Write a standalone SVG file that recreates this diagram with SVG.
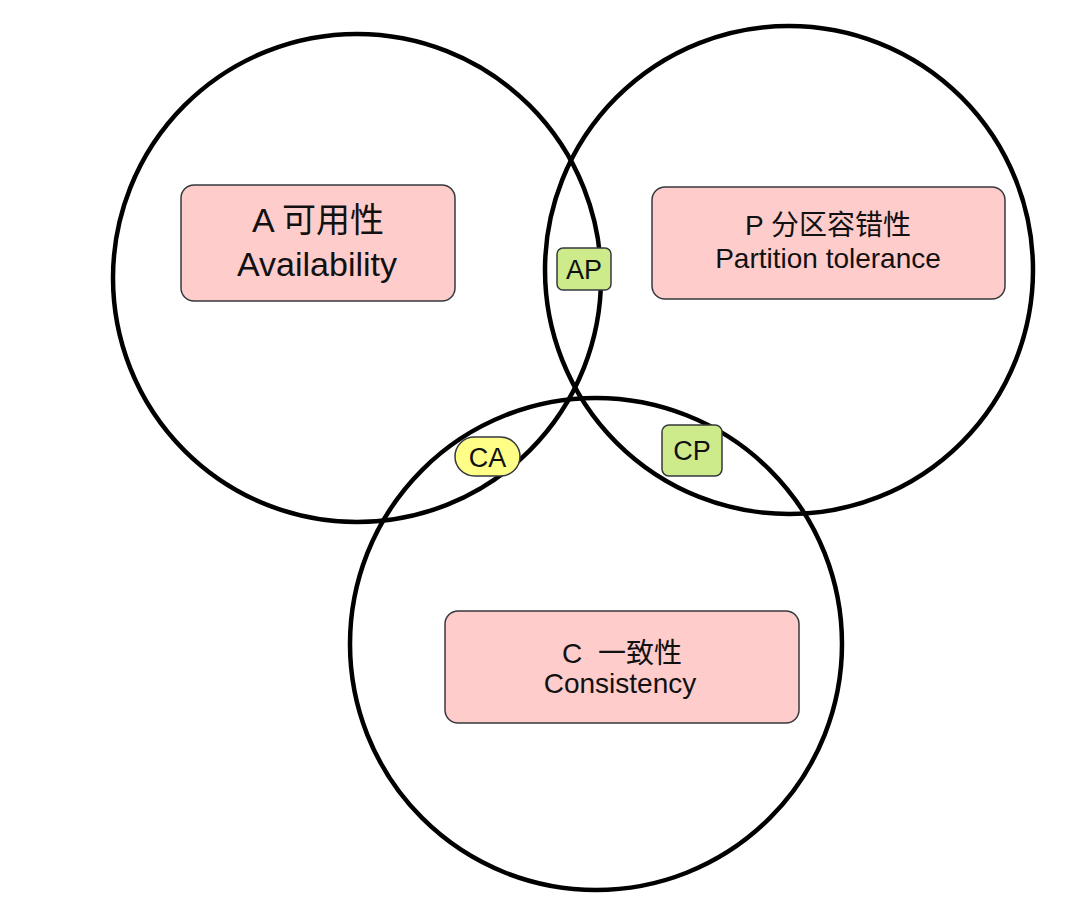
<svg xmlns="http://www.w3.org/2000/svg" width="1080" height="921" viewBox="0 0 1080 921">
  <style>
    .ring { fill: none; stroke: #000; stroke-width: 4.5; }
    .main { fill: #ffcccc; stroke: #36393d; stroke-width: 1.5; }
    .green { fill: #cdeb8b; stroke: #36393d; stroke-width: 1.5; }
    .yellow { fill: #ffff88; stroke: #36393d; stroke-width: 1.5; }
    text { font-family: "Liberation Sans", "Noto Sans CJK SC", sans-serif; fill: #111; text-anchor: middle; }
  </style>
  <rect width="1080" height="921" fill="#fff"/>
  <g id="circles">
    <g id="circle-A"><circle class="ring" cx="357" cy="278" r="244"/></g>
    <g id="circle-P"><circle class="ring" cx="789" cy="270" r="244"/></g>
    <g id="circle-C"><circle class="ring" cx="596" cy="644" r="246"/></g>
  </g>
  <g id="connectors"/>
  <g id="node-A">
    <rect class="main" x="181" y="185" width="274" height="116" rx="13"/>
    <text x="318" y="232" font-size="34">A 可用性</text>
    <text x="317" y="276" font-size="34">Availability</text>
  </g>
  <g id="node-P">
    <rect class="main" x="652" y="187" width="353" height="112" rx="13"/>
    <text x="828" y="235" font-size="28">P 分区容错性</text>
    <text x="828" y="268" font-size="28">Partition tolerance</text>
  </g>
  <g id="node-C">
    <rect class="main" x="445" y="611" width="354" height="112" rx="13"/>
    <text x="622" y="663" font-size="28" xml:space="preserve">C  一致性</text>
    <text x="620" y="693" font-size="28">Consistency</text>
  </g>
  <g id="node-AP">
    <rect class="green" x="557" y="248" width="54" height="42" rx="6"/>
    <text x="584" y="279" font-size="27">AP</text>
  </g>
  <g id="node-CP">
    <rect class="green" x="662" y="425" width="60" height="51" rx="7"/>
    <text x="692" y="460" font-size="27">CP</text>
  </g>
  <g id="node-CA">
    <rect class="yellow" x="455" y="437" width="65" height="39" rx="19.5"/>
    <text x="487.5" y="467" font-size="27">CA</text>
  </g>
</svg>
